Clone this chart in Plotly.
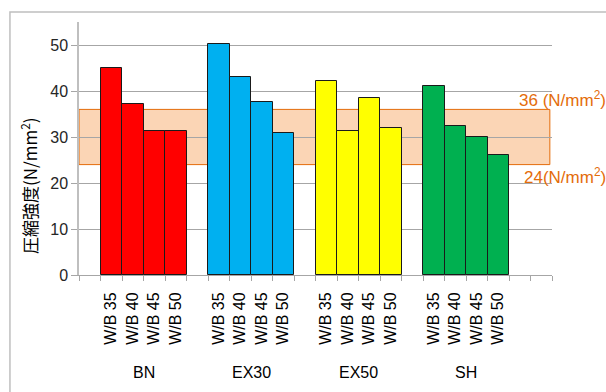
import plotly.graph_objects as go

# Compressive strength by mix group and water/binder ratio
groups = ["BN", "EX30", "EX50", "SH"]
wb_labels = ["W/B 35", "W/B 40", "W/B 45", "W/B 50"]
strength = {
    "BN": [45.0, 37.2, 31.3, 31.3],
    "EX30": [50.2, 43.0, 37.7, 30.9],
    "EX50": [42.2, 31.4, 38.4, 31.9],
    "SH": [41.1, 32.4, 30.1, 26.1],
}
group_colors = {"BN": "#FF0000", "EX30": "#00B0F0", "EX50": "#FFFF00", "SH": "#00B050"}
band_low, band_high = 24, 36
y_ticks = [0, 10, 20, 30, 40, 50]
y_title = "圧縮強度(N/mm<sup>2</sup>)"

# category slots: one blank slot before each group, two trailing blanks
n_slots = 1 + len(groups) * (len(wb_labels) + 1) + 1

fig = go.Figure()
tick_pos, tick_txt, group_centers = [], [], []
slot = 1
for g in groups:
    xs = [slot + i for i in range(len(wb_labels))]
    fig.add_trace(go.Bar(
        x=xs, y=strength[g], width=1,
        marker=dict(color=group_colors[g], line=dict(color="#1a1a1a", width=1)),
        showlegend=False, hoverinfo="y",
    ))
    tick_pos += xs
    tick_txt += wb_labels
    group_centers.append((g, (xs[0] + xs[-1]) / 2))
    slot += len(wb_labels) + 1

x_lo, x_hi = -0.5, n_slots - 0.5

# tick marks at slot boundaries via an overlaid axis
fig.add_trace(go.Scatter(x=[x_lo, x_hi], y=[None, None], xaxis="x2",
                         showlegend=False, hoverinfo="skip"))

# allowable strength band
fig.add_shape(type="rect", xref="x", yref="y", x0=x_lo, x1=x_hi - 0.1,
              y0=band_low, y1=band_high, fillcolor="#FBD5B5",
              line=dict(color="#E46C0A", width=1), layer="below")

band_font = dict(family="Liberation Sans, Arial", size=17, color="#E46C0A")
fig.add_annotation(xref="paper", yref="y", x=1.118, y=band_high, yshift=10,
                   text=f"{band_high} (N/mm<sup>2</sup>)", showarrow=False,
                   xanchor="right", yanchor="middle", font=band_font)
fig.add_annotation(xref="paper", yref="y", x=1.118, y=band_low, yshift=-11,
                   text=f"{band_low}(N/mm<sup>2</sup>)", showarrow=False,
                   xanchor="right", yanchor="middle", font=band_font)

for g, cx in group_centers:
    fig.add_annotation(xref="x", yref="paper", x=cx, y=-0.385, text=g,
                       showarrow=False, yanchor="middle",
                       font=dict(family="Liberation Sans, Arial", size=16, color="#000000"))

# y-axis title
fig.add_annotation(xref="paper", yref="paper", x=-0.106, y=0.355, text=y_title,
                   textangle=-90, showarrow=False, xanchor="center", yanchor="middle",
                   font=dict(family="Noto Sans CJK JP", size=17, color="#000000"))

# outer chart frame
fig.add_shape(type="rect", xref="paper", yref="paper", x0=-0.146, x1=1.3,
              y0=-0.6, y1=1.0395, line=dict(color="#BFBFBF", width=1.5),
              fillcolor="rgba(0,0,0,0)", layer="below")

fig.update_layout(
    width=606, height=392,
    margin=dict(l=79, r=54, t=22, b=117),
    paper_bgcolor="white", plot_bgcolor="white",
    bargap=0,
    xaxis=dict(range=[x_lo, x_hi], tickmode="array", tickvals=tick_pos,
               ticktext=tick_txt, tickangle=-90, ticks="", showgrid=False,
               showline=True, linecolor="#A6A6A6", linewidth=1, zeroline=False,
               ticklabelstandoff=10,
               tickfont=dict(family="Liberation Sans, Arial", size=16, color="#000000")),
    xaxis2=dict(overlaying="x", side="bottom", range=[x_lo, x_hi], anchor="y",
                tickmode="array", tickvals=[x_lo + i for i in range(n_slots + 1)],
                showticklabels=False, ticks="outside", ticklen=5, tickcolor="#A6A6A6",
                showgrid=False, showline=False, zeroline=False),
    yaxis=dict(range=[0, 55], tickmode="array", tickvals=y_ticks,
               showgrid=True, gridcolor="#A6A6A6", gridwidth=1,
               showline=True, linecolor="#BFBFBF", linewidth=1.5, zeroline=False,
               ticks="outside", ticklen=6, tickcolor="#A6A6A6",
               tickfont=dict(family="Liberation Sans, Arial", size=16, color="#262626")),
)

fig.write_html("out.html")
